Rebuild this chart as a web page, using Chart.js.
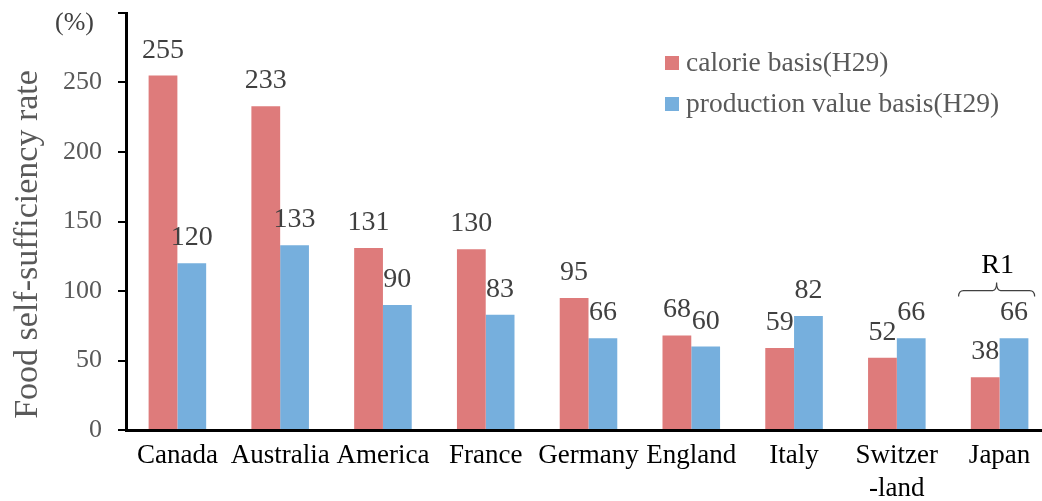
<!DOCTYPE html>
<html>
<head>
<meta charset="utf-8">
<script src="https://cdn.jsdelivr.net/npm/chart.js@4.4.1/dist/chart.umd.min.js"></script>
<style>
html,body{margin:0;padding:0;overflow:hidden;background:#fff;}
#wrap{width:1042px;height:501px;overflow:hidden;}
canvas{display:block;}
</style>
</head>
<body>
<div id="wrap"><canvas id="c" width="1052" height="501"></canvas></div>
<script>
const categories = ["Canada","Australia","America","France","Germany","England","Italy",["Switzer","-land"],"Japan"];
const calorieBasis = [255,233,131,130,95,68,59,52,38];
const productionBasis = [120,133,90,83,66,60,82,66,66];
const seriesNames = ["calorie basis(H29)","production value basis(H29)"];
const yTicks = [0,50,100,150,200,250];
const yTitle = "Food self-sufficiency rate";
const unitLabel = "(%)";
const noteLabel = "R1";
const noteCategoryIndex = 8;

const SERIF = "'Liberation Serif','Times New Roman',serif";
const RED = "rgb(222,123,123)";
const BLUE = "rgb(118,175,221)";

const overlay = {
  id: 'overlay',
  afterDatasetsDraw(chart) {
    const ctx = chart.ctx;
    const xs = chart.scales.x, ys = chart.scales.y;
    ctx.save();
    // data labels
    ctx.font = "28px " + SERIF;
    ctx.fillStyle = "#404040";
    ctx.textAlign = "center";
    ctx.textBaseline = "alphabetic";
    chart.data.datasets.forEach((ds, di) => {
      const meta = chart.getDatasetMeta(di);
      meta.data.forEach((bar, i) => {
        ctx.fillText(String(ds.data[i]), bar.x, bar.y - 18);
      });
    });
    // unit label
    ctx.font = "26px " + SERIF;
    ctx.fillStyle = "#404040";
    ctx.textAlign = "right";
    ctx.textBaseline = "middle";
    ctx.fillText(unitLabel, ys.right - 32, ys.top + 10);
    // y title
    ctx.save();
    ctx.translate(28, (ys.top + ys.bottom) / 2 + 23);
    ctx.rotate(-Math.PI / 2);
    ctx.textAlign = "center";
    ctx.textBaseline = "middle";
    ctx.font = "34px " + SERIF;
    ctx.fillStyle = "#595959";
    ctx.fillText(yTitle, 0, 0);
    ctx.restore();
    // legend
    const lx = 665, ly = [63, 104];
    ctx.font = "27.5px " + SERIF;
    ctx.textAlign = "left";
    ctx.textBaseline = "middle";
    [RED, BLUE].forEach((col, k) => {
      ctx.fillStyle = col;
      ctx.fillRect(lx, ly[k] - 7, 14, 14);
      ctx.fillStyle = "#595959";
      ctx.fillText(seriesNames[k], lx + 21, ly[k] + 1);
    });
    // R1 bracket
    const cx = xs.getPixelForValue(noteCategoryIndex) - 3;
    const half = (xs.getPixelForValue(1) - xs.getPixelForValue(0)) * 0.37;
    const yb = ys.getPixelForValue(96);
    const yh = yb - 6;
    ctx.strokeStyle = "#404040";
    ctx.lineWidth = 1.2;
    ctx.beginPath();
    ctx.moveTo(cx - half, yb);
    ctx.quadraticCurveTo(cx - half, yh, cx - half + 5, yh);
    ctx.lineTo(cx - 4, yh);
    ctx.quadraticCurveTo(cx, yh, cx, yh - 8);
    ctx.quadraticCurveTo(cx, yh, cx + 4, yh);
    ctx.lineTo(cx + half - 5, yh);
    ctx.quadraticCurveTo(cx + half, yh, cx + half, yb);
    ctx.stroke();
    ctx.fillStyle = "#000";
    ctx.textAlign = "center";
    ctx.textBaseline = "middle";
    ctx.font = "28px " + SERIF;
    ctx.fillText(noteLabel, cx + 1, yh - 25);
    ctx.restore();
  }
};

new Chart(document.getElementById('c'), {
  type: 'bar',
  data: {
    labels: categories,
    datasets: [
      { label: seriesNames[0], data: calorieBasis, backgroundColor: RED, categoryPercentage: 0.56, barPercentage: 1.0 },
      { label: seriesNames[1], data: productionBasis, backgroundColor: BLUE, categoryPercentage: 0.56, barPercentage: 1.0 }
    ]
  },
  options: {
    responsive: false,
    animation: false,
    layout: { padding: { top: 13, right: 1, left: 0, bottom: 0 } },
    plugins: { legend: { display: false }, tooltip: { enabled: false } },
    scales: {
      x: {
        grid: { display: false, drawTicks: false },
        border: { color: "#000", width: 3 },
        ticks: { color: "#000", font: { family: SERIF, size: 27 }, padding: 10, maxRotation: 0, autoSkip: false },
        afterFit(s) { s.height = 71; s.paddingLeft = 0; s.paddingRight = 0; }
      },
      y: {
        min: 0, max: 300,
        afterBuildTicks(s) { s.ticks = yTicks.concat([300]).map(v => ({ value: v })); },
        grid: { drawOnChartArea: false, drawTicks: true, tickLength: 8, color: "#000", lineWidth: 2 },
        border: { color: "#000", width: 3 },
        ticks: {
          color: "#595959", font: { family: SERIF, size: 26 }, padding: 16,
          callback: v => (yTicks.includes(v) ? String(v) : "")
        },
        afterFit(s) { s.width = 126; s.paddingTop = 0; s.paddingBottom = 0; }
      }
    }
  },
  plugins: [overlay]
});
</script>
</body>
</html>
